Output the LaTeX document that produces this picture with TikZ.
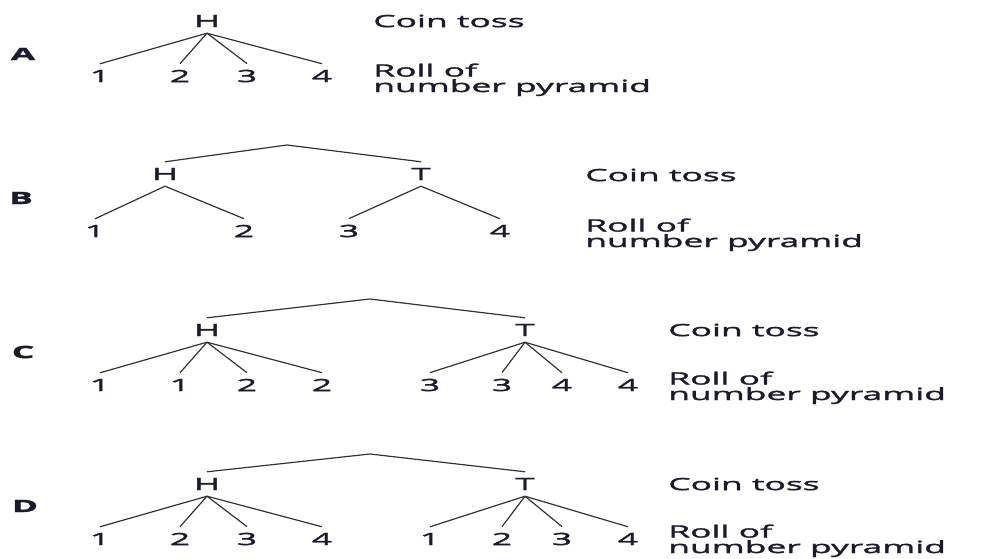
\documentclass[tikz,border=0pt]{standalone}
\usepackage{fontspec}
\setmainfont[FakeStretch=2.1, FakeBold=2]{Open Sans}
\definecolor{ink}{HTML}{1B1B2E}
\tikzset{
    face/.style={font=\fontsize{12}{11}\selectfont, text=ink, inner xsep=2pt, inner ysep=4.2pt},
    note/.style={font=\fontsize{12}{11}\selectfont, text=ink, anchor=west, align=left, inner sep=0pt},
    rowlabel/.style={font=\fontsize{12}{11}\selectfont\bfseries, text=ink, inner sep=0pt},
    branch/.style={line width=0.85pt, draw=black!80}
}
\begin{document}
\begin{tikzpicture}[x=0.025cm, y=-0.025cm]
    \useasboundingbox (0,0) rectangle (994,559);

    \node[rowlabel] (labA) at (23,54) {A};
    \node[face] (hA) at (207,21) {H};
    \node[face] (a1) at (100,76) {1};
    \node[face] (a2) at (180,76) {2};
    \node[face] (a3) at (247,76) {3};
    \node[face] (a4) at (322,76) {4};
    \node[note] (coinA) at (373,21) {Coin toss};
    \node[note, anchor=base west] (rollA) at (373,92) {Roll of\\number pyramid};
    \draw[branch] (hA.south) -- (a1.north);
    \draw[branch] (hA.south) -- (a2.north);
    \draw[branch] (hA.south) -- (a3.north);
    \draw[branch] (hA.south) -- (a4.north);

    \node[rowlabel] (labB) at (21,198) {B};
    \coordinate (topB) at (287,145);
    \node[face] (hB) at (165,174) {H};
    \node[face] (tB) at (421,174) {T};
    \node[face] (b1) at (95,231) {1};
    \node[face] (b2) at (244,231) {2};
    \node[face] (b3) at (349,231) {3};
    \node[face] (b4) at (500,231) {4};
    \node[note] (coinB) at (585,175) {Coin toss};
    \node[note, anchor=base west] (rollB) at (585,247) {Roll of\\number pyramid};
    \draw[branch] (hB.north) -- (topB) -- (tB.north);
    \draw[branch] (hB.south) -- (b1.north);
    \draw[branch] (hB.south) -- (b2.north);
    \draw[branch] (tB.south) -- (b3.north);
    \draw[branch] (tB.south) -- (b4.north);

    \node[rowlabel] (labC) at (23,352) {C};
    \coordinate (topC) at (370,299);
    \node[face] (hC) at (207,330) {H};
    \node[face] (tC) at (525,330) {T};
    \node[face] (c1) at (100,385) {1};
    \node[face] (c2) at (180,385) {1};
    \node[face] (c3) at (247,385) {2};
    \node[face] (c4) at (322,385) {2};
    \node[face] (c5) at (430,385) {3};
    \node[face] (c6) at (502,385) {3};
    \node[face] (c7) at (562,385) {4};
    \node[face] (c8) at (628,385) {4};
    \node[note] (coinC) at (668,330) {Coin toss};
    \node[note, anchor=base west] (rollC) at (668,400) {Roll of\\number pyramid};
    \draw[branch] (hC.north) -- (topC) -- (tC.north);
    \draw[branch] (hC.south) -- (c1.north);
    \draw[branch] (hC.south) -- (c2.north);
    \draw[branch] (hC.south) -- (c3.north);
    \draw[branch] (hC.south) -- (c4.north);
    \draw[branch] (tC.south) -- (c5.north);
    \draw[branch] (tC.south) -- (c6.north);
    \draw[branch] (tC.south) -- (c7.north);
    \draw[branch] (tC.south) -- (c8.north);

    \node[rowlabel] (labD) at (25,506) {D};
    \coordinate (topD) at (370,454);
    \node[face] (hD) at (207,484) {H};
    \node[face] (tD) at (525,484) {T};
    \node[face] (d1) at (100,539) {1};
    \node[face] (d2) at (180,539) {2};
    \node[face] (d3) at (247,539) {3};
    \node[face] (d4) at (322,539) {4};
    \node[face] (d5) at (430,539) {1};
    \node[face] (d6) at (502,539) {2};
    \node[face] (d7) at (562,539) {3};
    \node[face] (d8) at (628,539) {4};
    \node[note] (coinD) at (668,484) {Coin toss};
    \node[note, anchor=base west] (rollD) at (668,553) {Roll of\\number pyramid};
    \draw[branch] (hD.north) -- (topD) -- (tD.north);
    \draw[branch] (hD.south) -- (d1.north);
    \draw[branch] (hD.south) -- (d2.north);
    \draw[branch] (hD.south) -- (d3.north);
    \draw[branch] (hD.south) -- (d4.north);
    \draw[branch] (tD.south) -- (d5.north);
    \draw[branch] (tD.south) -- (d6.north);
    \draw[branch] (tD.south) -- (d7.north);
    \draw[branch] (tD.south) -- (d8.north);
\end{tikzpicture}
\end{document}
